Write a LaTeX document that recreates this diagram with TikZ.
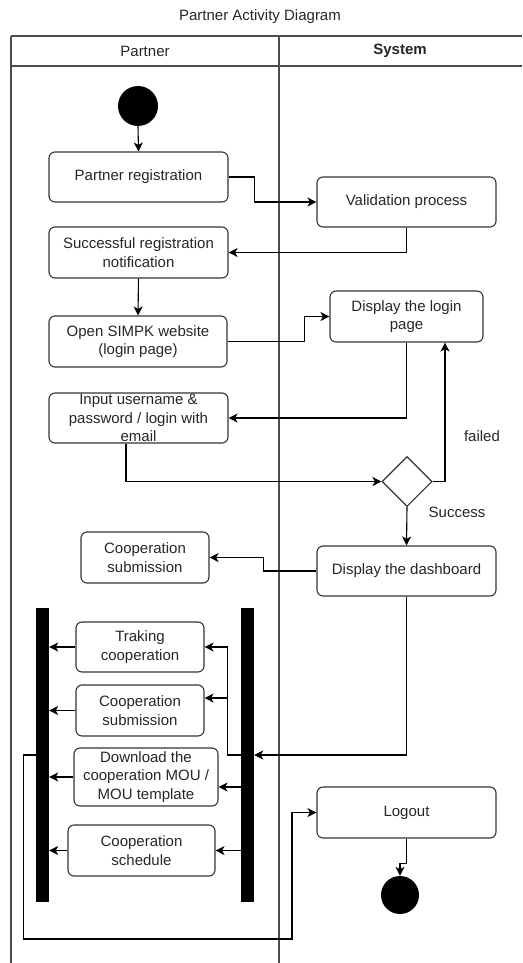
\documentclass[tikz,border=0pt]{standalone}
\usepackage{fontspec}
\setmainfont{Liberation Sans}
\usetikzlibrary{arrows.meta,shapes.geometric}
\tikzset{
  txt/.style={font=\fontsize{15}{18.5}\selectfont, text=black!85},
  act/.style={txt, draw=black!80, line width=1.1pt, rounded corners=6pt, align=center, inner sep=0pt},
  bar/.style={fill=black, draw=none, inner sep=0pt, minimum width=13pt, minimum height=294pt},
  dot/.style={circle, fill=black, draw=none, inner sep=0pt},
  flow/.style={line width=1.1pt, -{Stealth[length=9pt,width=9pt,inset=2.5pt]}},
  lane/.style={draw=black!70, line width=1.3pt},
}
\begin{document}
\begin{tikzpicture}[x=1pt,y=-1pt]
\useasboundingbox (0,0) rectangle (522,963);
% title and lanes
\node[txt] (title) at (260,17) {Partner Activity Diagram};
\draw[lane] (11,36) -- (522,36);
\draw[lane] (11,66) -- (522,66);
\draw[lane] (11,36) -- (11,963);
\draw[lane] (279,36) -- (279,963);
\node[txt] (hp) at (145,51) {Partner};
\node[txt,font=\fontsize{15}{18.5}\selectfont\bfseries] (hs) at (400,51) {System};

% nodes
\node[dot, minimum size=40pt] (start) at (138,106) {};
\node[act, minimum width=179pt, minimum height=50pt] (reg) at (138.5,177) {Partner registration};
\node[act, minimum width=179pt, minimum height=50pt] (val) at (406.5,202) {Validation process};
\node[act, minimum width=179pt, minimum height=51pt] (notif) at (138.5,252.5) {Successful registration\\notification};
\node[act, minimum width=178pt, minimum height=51pt] (open) at (138,341.5) {Open SIMPK website\\(login page)};
\node[act, minimum width=153pt, minimum height=51pt] (login) at (406.5,316.5) {Display the login\\page};
\node[act, minimum width=179pt, minimum height=50pt] (input) at (138.5,418) {Input username \&\\password / login with\\email};
\node[diamond, draw=black!80, line width=1.1pt, minimum width=50pt, minimum height=50pt, inner sep=0pt] (dec) at (407,481.5) {};
\node[txt] (lfail) at (482,436) {failed};
\node[txt] (lsucc) at (457,512) {Success};
\node[act, minimum width=179pt, minimum height=50pt] (dash) at (406.5,571) {Display the dashboard};
\node[act, minimum width=128pt, minimum height=51pt] (coop1) at (145,557.5) {Cooperation\\submission};
\node[bar] (barL) at (42.5,755) {};
\node[bar] (barR) at (247.5,755) {};
\node[act, minimum width=128pt, minimum height=50pt] (track) at (140,647) {Traking\\cooperation};
\node[act, minimum width=128pt, minimum height=51pt] (coop2) at (140,710.5) {Cooperation\\submission};
\node[act, minimum width=144pt, minimum height=58pt] (down) at (146,777) {Download the\\cooperation MOU /\\MOU template};
\node[act, minimum width=147pt, minimum height=51pt] (sched) at (141.5,850.5) {Cooperation\\schedule};
\node[act, minimum width=179pt, minimum height=51pt] (logout) at (406.5,812.5) {Logout};
\node[dot, minimum size=38pt] (end) at (400,895) {};

% connectors
\draw[flow] (start.south) -- (reg.north);
\draw[flow] (reg.east) -- ++(26,0) |- (val.west);
\draw[flow] (val.south) |- (notif.east);
\draw[flow] (notif.south) -- (open.north);
\draw[flow] (open.east) -- ++(77,0) |- (login.west);
\draw[flow] (login.south) |- (input.east);
\draw[flow] ([xshift=-12.5pt]input.south) |- (dec.west);
\draw[flow] (dec.east) -| ([xshift=38.5pt]login.south);
\draw[flow] (dec.south) -- (dash.north);
\draw[flow] (dash.west) -- ++(-53,0) |- (coop1.east);
\draw[flow] (dash.south) |- (barR.east);
\draw[flow] (barR.west) -- ++(-13,0) |- (track.east);
\draw[flow] (barR.west) -- ++(-13,0) |- ([yshift=12.5pt]coop2.east);
\draw[flow] ([yshift=-10pt]down.east -| barR.west) -- ([yshift=-10pt]down.east);
\draw[flow] (sched.east -| barR.west) -- (sched.east);
\draw[flow] (track.west) -- (track.west -| barL.east);
\draw[flow] (coop2.west) -- (coop2.west -| barL.east);
\draw[flow] (down.west) -- (down.west -| barL.east);
\draw[flow] (sched.west) -- (sched.west -| barL.east);
\coordinate (lp) at (292,939);
\draw[flow] (barL.west) -- ++(-12,0) |- (lp) |- (logout.west);
\draw[flow] (logout.south) -- ++(0,25) -| (end.north);
\end{tikzpicture}
\end{document}
